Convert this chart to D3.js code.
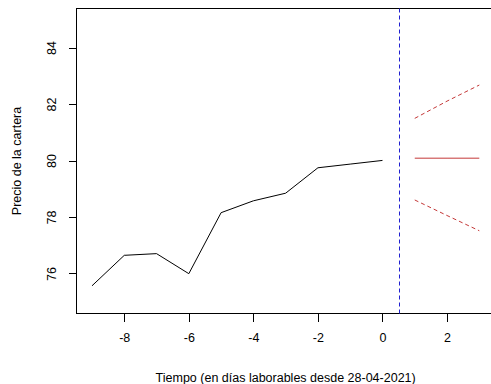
<!DOCTYPE html>
<html lang="es">
  <head>
    <meta charset="utf-8">
    <title>Precio de la cartera</title>
    <script src="https://cdn.jsdelivr.net/npm/d3@7"></script>
    <style type="text/css">
      body { margin: 0; background: #fff; }
      svg { display: block; font-family: "Liberation Sans", Arial, sans-serif; }
      .axis path { display: none; }
      .axis line { stroke: #000; shape-rendering: crispEdges; }
      .axis text { font-size: 12.5px; fill: #000; font-family: "Liberation Sans", Arial, sans-serif; }
      .line { fill: none; }
      .cut { stroke: #2020d0; stroke-width: 1; stroke-dasharray: 4,3; }
    </style>
  </head>
  <body>
    <script type="text/javascript">
      var w = 491, h = 384;

      // historical prices (days before 28-04-2021)
      var histDays = [-9, -8, -7, -6, -5, -4, -3, -2, -1, 0];
      var histPrice = [75.58, 76.66, 76.72, 76.01, 78.17, 78.59, 78.86, 79.76, 79.89, 80.02];

      // forecast
      var fcDays = [1, 2, 3];
      var fcMean = [80.10, 80.10, 80.10];
      var fcUpper = [81.51, 82.12, 82.69];
      var fcLower = [78.62, 78.07, 77.53];
      var cutDay = 0.5;

      var xTicks = [-8, -6, -4, -2, 0, 2];
      var yTicks = [76, 78, 80, 82, 84];

      var xScale = d3.scaleLinear().domain([-9.48, 3.48]).range([76.5, 494.8]);
      var yScale = d3.scaleLinear().domain([74.6, 85.4]).range([313.5, 8.5]);

      var svg = d3.select("body").append("svg")
        .attr("width", w)
        .attr("height", h);

      function pairs(xs, ys) {
        return xs.map(function(d, i) { return [d, ys[i]]; });
      }

      var line = d3.line()
        .x(function(d) { return xScale(d[0]); })
        .y(function(d) { return yScale(d[1]); });

      // box
      svg.append("rect")
        .attr("x", 76.5).attr("y", 8.5)
        .attr("width", 494.8 - 76.5).attr("height", 313.5 - 8.5)
        .attr("fill", "none").attr("stroke", "#000").attr("stroke-width", 1);

      svg.append("path")
        .datum(pairs(histDays, histPrice))
        .attr("class", "line")
        .attr("stroke", "#000")
        .attr("stroke-width", 1)
        .attr("d", line);

      // vertical dashed line
      svg.append("line")
        .attr("class", "cut")
        .attr("x1", Math.round(xScale(cutDay)) + 0.5).attr("x2", Math.round(xScale(cutDay)) + 0.5)
        .attr("y1", 8.5).attr("y2", 313.5);

      svg.append("path")
        .datum(pairs(fcDays, fcMean))
        .attr("class", "line")
        .attr("stroke", "#c43838")
        .attr("stroke-width", 1)
        .attr("d", line);

      [fcUpper, fcLower].forEach(function(band) {
        svg.append("path")
          .datum(pairs(fcDays, band))
          .attr("class", "line")
          .attr("stroke", "#c43838")
          .attr("stroke-width", 1)
          .attr("stroke-dasharray", "4,3")
          .attr("d", line);
      });

      // axes (R style: plain hyphen minus)
      var fmt = function(d) { return String(d); };
      var xAxis = d3.axisBottom(xScale).tickValues(xTicks).tickSize(8).tickPadding(12)
        .tickFormat(fmt);
      svg.append("g")
        .attr("class", "axis")
        .attr("transform", "translate(0,313.5)")
        .call(xAxis);

      var yAxis = d3.axisLeft(yScale).tickValues(yTicks).tickSize(8).tickFormat(fmt);
      var gy = svg.append("g")
        .attr("class", "axis")
        .attr("transform", "translate(76.5,0)")
        .call(yAxis);
      gy.selectAll(".tick").attr("transform", null);
      gy.selectAll(".tick line")
        .attr("y1", function(d) { return yScale(d); })
        .attr("y2", function(d) { return yScale(d); });
      gy.selectAll(".tick text")
        .attr("x", null).attr("dy", null).attr("y", null)
        .attr("text-anchor", "middle")
        .attr("transform", function(d) { return "translate(-21," + yScale(d) + ") rotate(-90)"; });

      // axis titles
      svg.append("text")
        .attr("x", (76.5 + 494.8) / 2)
        .attr("y", 382)
        .attr("text-anchor", "middle")
        .style("font-size", "12.5px")
        .text("Tiempo (en días laborables desde 28-04-2021)");

      svg.append("text")
        .attr("transform", "translate(21," + (8.5 + 313.5) / 2 + ") rotate(-90)")
        .attr("text-anchor", "middle")
        .style("font-size", "12.5px")
        .text("Precio de la cartera");
    </script>
  </body>
</html>
